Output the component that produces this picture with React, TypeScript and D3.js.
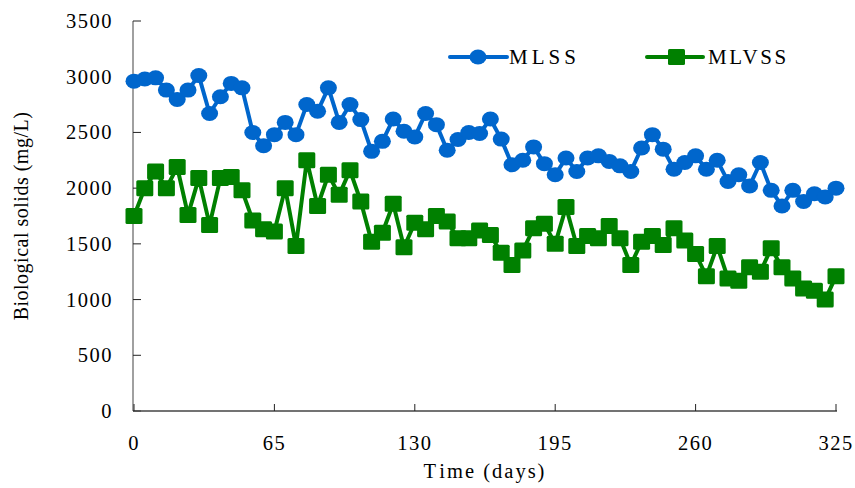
import React from "react";
import * as d3 from "d3";

// sampling days (every 5 days from 0 to 325)
const days = d3.range(0, 326, 5);

const mlss = [
  2960, 2980, 2990, 2880, 2795, 2880, 3010, 2670, 2820, 2940,
  2900, 2500, 2380, 2480, 2590, 2480, 2750, 2690, 2900, 2590,
  2750, 2615, 2330, 2420, 2620, 2510, 2460, 2670, 2570, 2340,
  2436, 2500, 2490, 2620, 2440, 2210, 2250, 2370, 2220, 2120,
  2270, 2150, 2270, 2290, 2240, 2200, 2150, 2360, 2480, 2350,
  2170, 2230, 2290, 2170, 2250, 2060, 2120, 2020, 2230, 1980,
  1840, 1980, 1880, 1950, 1920, 2000,
];

const mlvss = [
  1750, 2000, 2150, 2000, 2190, 1760, 2090, 1670, 2090, 2100,
  1980, 1710, 1630, 1610, 2000, 1480, 2250, 1840, 2120, 1940,
  2160, 1880, 1520, 1600, 1860, 1470, 1690, 1630, 1750, 1700,
  1550, 1550, 1620, 1580, 1420, 1310, 1440, 1640, 1680, 1500,
  1830, 1480, 1570, 1550, 1660, 1550, 1310, 1520, 1570, 1490,
  1640, 1530, 1410, 1210, 1480, 1190, 1170, 1290, 1250, 1460,
  1290, 1190, 1100, 1080, 1000, 1210,
];

const yTicks = [0, 500, 1000, 1500, 2000, 2500, 3000, 3500];
const xTicks = [0, 65, 130, 195, 260, 325];

const W = 855;
const H = 488;
const BLUE = "#0066cc";
const GREEN = "#008000";
const FONT = "'Liberation Serif', 'Times New Roman', serif";

export default function App() {
  const x = d3.scaleLinear().domain([0, 325]).range([134, 836]);
  const y = d3.scaleLinear().domain([0, 3500]).range([411, 21]);

  const line = d3
    .line<number>()
    .x((d, i) => x(days[i]))
    .y((d) => y(d));

  return (
    <svg
      width={W}
      height={H}
      style={{ position: "absolute", left: 0, top: 0, background: "white" }}
      fontFamily={FONT}
    >
      {/* y axis */}
      <line x1={133} x2={133} y1={y(3500)} y2={y(0)} stroke="#808080" strokeWidth={1.5} />
      {yTicks.map((t) => (
        <g key={"y" + t}>
          <line x1={133} x2={141} y1={y(t)} y2={y(t)} stroke="#222" strokeWidth={1} />
          <text
            x={113}
            y={y(t)}
            textAnchor="end"
            dominantBaseline="central"
            fontSize={20.5}
            letterSpacing={1.5}
          >
            {t}
          </text>
        </g>
      ))}

      {/* x axis */}
      <line x1={133} x2={837} y1={y(0)} y2={y(0)} stroke="#444" strokeWidth={1.5} />
      {xTicks.map((t) => (
        <g key={"x" + t}>
          <line x1={x(t)} x2={x(t)} y1={y(0)} y2={y(0) - 7} stroke="#222" strokeWidth={1} />
          <text x={x(t)} y={443} textAnchor="middle" dominantBaseline="central" fontSize={20.5} letterSpacing={1.5}>
            {t}
          </text>
        </g>
      ))}

      <text x={(x(0) + x(325)) / 2} y={471} textAnchor="middle" dominantBaseline="central" fontSize={20.5} letterSpacing={2}>
        <tspan>T</tspan>
        <tspan dx={2}>ime (days)</tspan>
      </text>
      <text
        transform={`translate(21, ${y(1750)}) rotate(-90)`}
        textAnchor="middle"
        dominantBaseline="central"
        fontSize={20}
        letterSpacing={0.5}
      >
        Biological solids (mg/L)
      </text>

      {/* MLSS */}
      <path d={line(mlss) || ""} fill="none" stroke={BLUE} strokeWidth={4} strokeLinejoin="round" />
      {mlss.map((v, i) => (
        <ellipse key={"c" + i} cx={x(days[i])} cy={y(v)} rx={8.5} ry={7.5} fill={BLUE} />
      ))}

      {/* MLVSS */}
      <path d={line(mlvss) || ""} fill="none" stroke={GREEN} strokeWidth={4} strokeLinejoin="round" />
      {mlvss.map((v, i) => (
        <rect key={"s" + i} x={x(days[i]) - 8.5} y={y(v) - 8} width={17} height={16} rx={1.5} fill={GREEN} />
      ))}

      {/* legend */}
      <g>
        <line x1={450} x2={507} y1={57} y2={57} stroke={BLUE} strokeWidth={4} strokeLinecap="round" />
        <ellipse cx={478} cy={57} rx={8.5} ry={7.5} fill={BLUE} />
        <text x={509} y={57} dominantBaseline="central" fontSize={21} letterSpacing={4}>
          MLSS
        </text>
        <line x1={647} x2={703} y1={57} y2={57} stroke={GREEN} strokeWidth={4} strokeLinecap="round" />
        <rect x={668} y={49} width={17} height={16} rx={1.5} fill={GREEN} />
        <text x={708} y={57} dominantBaseline="central" fontSize={21} letterSpacing={2.5}>
          MLVSS
        </text>
      </g>
    </svg>
  );
}
